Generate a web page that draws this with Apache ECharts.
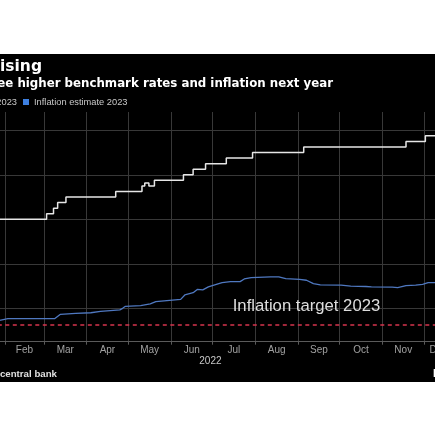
<!DOCTYPE html>
<html><head><meta charset="utf-8">
<script src="https://cdn.jsdelivr.net/npm/echarts@6/dist/echarts.min.js"></script>
<style>
html,body{margin:0;padding:0;width:435px;height:435px;overflow:hidden;background:#fff;position:relative}
#chart{position:absolute;left:-100px;top:54px;width:650px;height:328px;background:#000}
</style></head><body><div id="chart"></div>
<script>
// ---- text ----
const titleText = 'Brazil Rates Rising';
const subtitleText = 'Economists see higher benchmark rates and inflation next year';
const sourceText = 'Source: Brazil central bank';
const brandText = 'Bloomberg';
const rateName = 'Benchmark rate estimate 2023';
const inflName = 'Inflation estimate 2023';
const targetName = 'Inflation target 2023';
const yearLabel = '2022';
const axisStart = '2022-01-05';
const axisEnd = '2022-12-22';
const yMin = 2.5;
const yMax = 12.82;

// month tick labels, placed at the middle of each month's span on the axis
const monthLabels = ['Jan','Feb','Mar','Apr','May','Jun','Jul','Aug','Sep','Oct','Nov','Dec'];
const monthLabelDates = ['2022-01-18 12:00','2022-02-15','2022-03-16 12:00','2022-04-16','2022-05-16 12:00','2022-06-16','2022-07-16 12:00','2022-08-16 12:00','2022-09-16','2022-10-16 12:00','2022-11-16','2022-12-11 12:00'];

// ---- data ----
const rateDates = ['2022-01-05','2022-03-03','2022-03-08','2022-03-11','2022-03-17','2022-04-22','2022-05-11','2022-05-13','2022-05-16','2022-05-20','2022-06-10','2022-06-17','2022-06-26','2022-07-11','2022-07-30','2022-09-05','2022-11-18','2022-12-02','2022-12-22'];
const rateValues = [8.0,8.25,8.5,8.75,9.0,9.25,9.5,9.63,9.5,9.75,10.0,10.25,10.5,10.75,11.0,11.25,11.5,11.75,11.75];

const inflDates = ['2022-01-05','2022-01-28','2022-02-03','2022-03-09','2022-03-13','2022-03-24','2022-04-04','2022-04-11','2022-04-18','2022-04-25','2022-04-27','2022-04-29','2022-05-10','2022-05-17','2022-05-21','2022-05-31','2022-06-08','2022-06-11','2022-06-17','2022-06-20','2022-06-24','2022-06-28','2022-07-05','2022-07-08','2022-07-14','2022-07-21','2022-07-24','2022-07-29','2022-08-12','2022-08-18','2022-08-23','2022-09-02','2022-09-07','2022-09-12','2022-09-17','2022-10-02','2022-10-09','2022-10-20','2022-10-24','2022-11-08','2022-11-12','2022-11-18','2022-11-25','2022-11-30','2022-12-04','2022-12-09','2022-12-22'];
const inflValues = [3.41,3.46,3.54,3.54,3.73,3.77,3.80,3.86,3.90,3.93,4.00,4.09,4.12,4.20,4.30,4.36,4.40,4.60,4.70,4.85,4.83,4.96,5.10,5.15,5.20,5.20,5.32,5.38,5.41,5.41,5.33,5.30,5.26,5.11,5.05,5.04,5.00,4.98,4.96,4.95,4.93,5.02,5.04,5.08,5.15,5.15,5.17];

const targetValue = 3.25;
const targetLabelDate = '2022-09-07';

const pair = (ds, vs) => ds.map((d, i) => [d, vs[i]]);
const gridColor = '#383838';
const labelColor = '#c8c8c8';
const smallFont = 'Liberation Sans';

const chart = echarts.init(document.getElementById('chart'));
chart.setOption({
  backgroundColor: '#000',
  animation: false,
  title: [
    {text: titleText, right: 508, top: 4, padding: 0,
     textStyle: {color: '#fff', fontSize: 15.5, fontWeight: 'bold', fontFamily: 'DejaVu Sans', lineHeight: 18}},
    {text: subtitleText, right: 217, top: 22.5, padding: 0,
     textStyle: {color: '#fff', fontSize: 11.8, fontWeight: 'bold', fontFamily: 'DejaVu Sans', lineHeight: 14}},
    {text: sourceText, right: 493, top: 314, padding: 0,
     textStyle: {color: '#e0e0e0', fontSize: 9.7, fontWeight: 'bold', fontFamily: smallFont, lineHeight: 12}},
    {text: brandText, left: 533, top: 313, padding: 0,
     textStyle: {color: '#fff', fontSize: 11, fontWeight: 'bold', fontFamily: smallFont, lineHeight: 13}}
  ],
  legend: [
    {data: [rateName], right: 533, top: 42, padding: 0, itemWidth: 6, itemHeight: 6, icon: 'rect',
     textStyle: {color: labelColor, fontSize: 9.3, fontFamily: smallFont, lineHeight: 12}},
    {data: [inflName], left: 123, top: 42, padding: 0, itemWidth: 6, itemHeight: 6, icon: 'rect',
     textStyle: {color: labelColor, fontSize: 9.3, fontFamily: smallFont, lineHeight: 12}}
  ],
  grid: {left: 67.8, right: 97, top: 58, bottom: 40.3, containLabel: false},
  xAxis: {type: 'time', min: axisStart, max: axisEnd, splitNumber: 12,
    axisLine: {lineStyle: {color: '#5a5a5a'}},
    axisTick: {show: true, length: 3, lineStyle: {color: '#5a5a5a'}},
    axisLabel: {show: false},
    splitLine: {show: true, showMinLine: false, showMaxLine: false, lineStyle: {color: gridColor, width: 1}},
    name: yearLabel, nameLocation: 'middle', nameGap: 14.1,
    nameTextStyle: {color: labelColor, fontSize: 10, fontFamily: smallFont, lineHeight: 11}},
  yAxis: {type: 'value', position: 'right', min: yMin, max: yMax, splitNumber: 5,
    axisLine: {show: false}, axisTick: {show: false},
    axisLabel: {color: labelColor, fontSize: 10, fontFamily: smallFont},
    splitLine: {show: true, showMinLine: false, showMaxLine: false, lineStyle: {color: gridColor, width: 1}}},
  series: [
    {name: rateName, type: 'line', step: 'end', data: pair(rateDates, rateValues),
     symbol: 'none', itemStyle: {color: '#e6e6e6'}, lineStyle: {color: '#e6e6e6', width: 1.5}, z: 4},
    {name: inflName, type: 'line', data: pair(inflDates, inflValues),
     symbol: 'none', itemStyle: {color: '#3d7fe0'}, lineStyle: {color: '#4f78c0', width: 1.3}, z: 3},
    {name: targetName, type: 'line', data: [[axisStart, targetValue], [axisEnd, targetValue]],
     symbol: 'none', silent: true, itemStyle: {color: '#d6344e'},
     lineStyle: {color: '#d6344e', width: 1.6, type: [4, 3.5]}, z: 2,
     markPoint: {symbol: 'circle', symbolSize: 0, silent: true,
       data: [{coord: [targetLabelDate, targetValue]}],
       label: {show: true, formatter: targetName, color: '#dedede', fontSize: 16.7, fontFamily: smallFont, offset: [0, -18.3]}}},
    {name: 'month labels', type: 'scatter', silent: true, clip: false, symbolSize: 0,
     data: monthLabelDates.map((d, i) => ({value: [d, yMin], name: monthLabels[i]})),
     label: {show: true, position: 'bottom', distance: 3, formatter: p => p.name,
       color: labelColor, fontSize: 10, fontFamily: smallFont, lineHeight: 11}}
  ]
});
</script></body></html>
